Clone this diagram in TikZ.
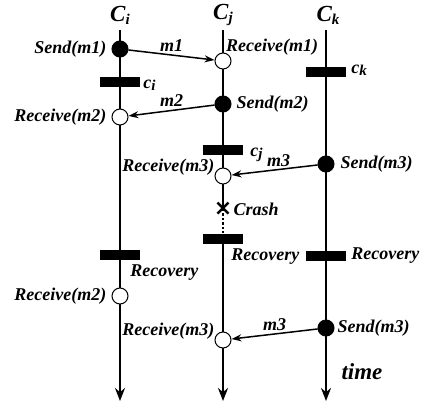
\documentclass[tikz,border=0pt]{standalone}
\usepackage{fontspec}
\setmainfont{Liberation Serif}
\newfontfamily\crossfont{DejaVu Sans}
\usepackage{tikz}
\usetikzlibrary{arrows.meta,positioning,calc}
\newcommand{\lowidx}[1]{\raisebox{-0.3ex}{\fontsize{15}{15}\selectfont #1}}
\tikzset{
  lbl/.style={font=\bfseries\itshape\fontsize{18}{20}\selectfont, inner sep=0pt},
  proc/.style={font=\bfseries\itshape\fontsize{23}{25}\selectfont, inner sep=0pt},
  timeline/.style={line width=2.4pt, -{Stealth[length=13pt,width=10pt]}},
  sendev/.style={circle, draw, fill=black, line width=1pt, minimum size=16pt, inner sep=0pt},
  recvev/.style={circle, draw, fill=white, line width=1pt, minimum size=16pt, inner sep=0pt},
  ckpt/.style={rectangle, fill=black, minimum width=40pt, minimum height=10pt, inner sep=0pt},
  msg/.style={line width=1.5pt, -{Stealth[length=10pt,width=7pt]}}
}
\begin{document}
\begin{tikzpicture}[x=1pt,y=-1pt]
\useasboundingbox (0,0) rectangle (425,404);
% processes
\node[proc] (ci) at (120,15) {C\lowidx{i}};
\node[proc] (cj) at (223,15) {C\lowidx{j}};
\node[proc] (ck) at (328,15) {C\lowidx{k}};
\coordinate (ti) at (120,30);
\coordinate (tj) at (223,30);
\coordinate (tk) at (326,30);
\coordinate (bi) at (120,401);
\coordinate (bj) at (223,401);
\coordinate (bk) at (326,401);
% checkpoints and crash
\node[ckpt] (cpi) at (120,82) {};
\node[ckpt] (cpk) at (326,72) {};
\node[ckpt] (cpj) at (223,150) {};
\node[inner sep=0pt, font=\crossfont\bfseries\fontsize{22}{22}\selectfont] (crash) at (223,209) {×};
\node[ckpt] (rcj) at (223,239) {};
\node[ckpt] (rci) at (120,255) {};
\node[ckpt] (rck) at (326,256) {};
\draw[timeline] (ti) -- (bi);
\draw[line width=2.4pt] (tj) -- (crash.center);
\draw[line width=2.4pt, dotted] (crash.center) -- (rcj);
\draw[timeline] (rcj) -- (bj);
\draw[timeline] (tk) -- (bk);
% events
\node[sendev] (s1) at (120,49) {};
\node[recvev] (r1) at (223,61) {};
\node[sendev] (s2) at (223,104) {};
\node[recvev] (r2) at (120,117) {};
\node[sendev] (s3) at (326,164) {};
\node[recvev] (r3) at (223,176) {};
\node[recvev] (r2b) at (120,296) {};
\node[sendev] (s3b) at (326,328) {};
\node[recvev] (r3b) at (223,340) {};
% messages
\draw[msg] (s1) -- (r1) node[lbl, midway, above=3pt] (m1) {m1};
\draw[msg] (s2) -- (r2) node[lbl, midway, above=3pt] (m2) {m2};
\draw[msg] (s3) -- (r3) node[lbl, midway, above=3pt, xshift=4pt] (m3) {m3};
\draw[msg] (s3b) -- (r3b) node[lbl, midway, above=3pt] (m3b) {m3};
% labels
\node[lbl, left=5pt of s1] (ls1) {Send(m1)};
\node[lbl, anchor=south west] (lr1) at ($(r1.north east)+(-3pt,-1pt)$) {Receive(m1)};
\node[lbl, right=5pt of s2] (ls2) {Send(m2)};
\node[lbl, left=5pt of r2] (lr2) {Receive(m2)};
\node[lbl, anchor=north west] (lci) at ($(cpi.north east)+(3pt,-3pt)$) {c\lowidx{i}};
\node[lbl, anchor=west] (lck) at ($(cpk.east)+(5pt,2pt)$) {c\lowidx{k}};
\node[lbl, anchor=west] (lcj) at ($(cpj.east)+(7pt,-5pt)$) {c\lowidx{j}};
\node[lbl, anchor=south east] (lr3) at (r3.west) {Receive(m3)};
\node[lbl, right=6pt of s3] (ls3) {Send(m3)};
\node[lbl, right=1pt of crash] (lcr) {Crash};
\node[lbl, anchor=north west] (lrj) at ($(rcj.south east)+(-12pt,-4pt)$) {Recovery};
\node[lbl, anchor=north west] (lri) at ($(rci.south east)+(-10pt,-4pt)$) {Recovery};
\node[lbl, right=5pt of rck] (lrk) {Recovery};
\node[lbl, left=5pt of r2b] (lr2b) {Receive(m2)};
\node[lbl, anchor=south east] (lr3b) at (r3b.west) {Receive(m3)};
\node[lbl, right=3pt of s3b] (ls3b) {Send(m3)};
\node[proc] (time) at (362,372) {time};
\end{tikzpicture}
\end{document}
